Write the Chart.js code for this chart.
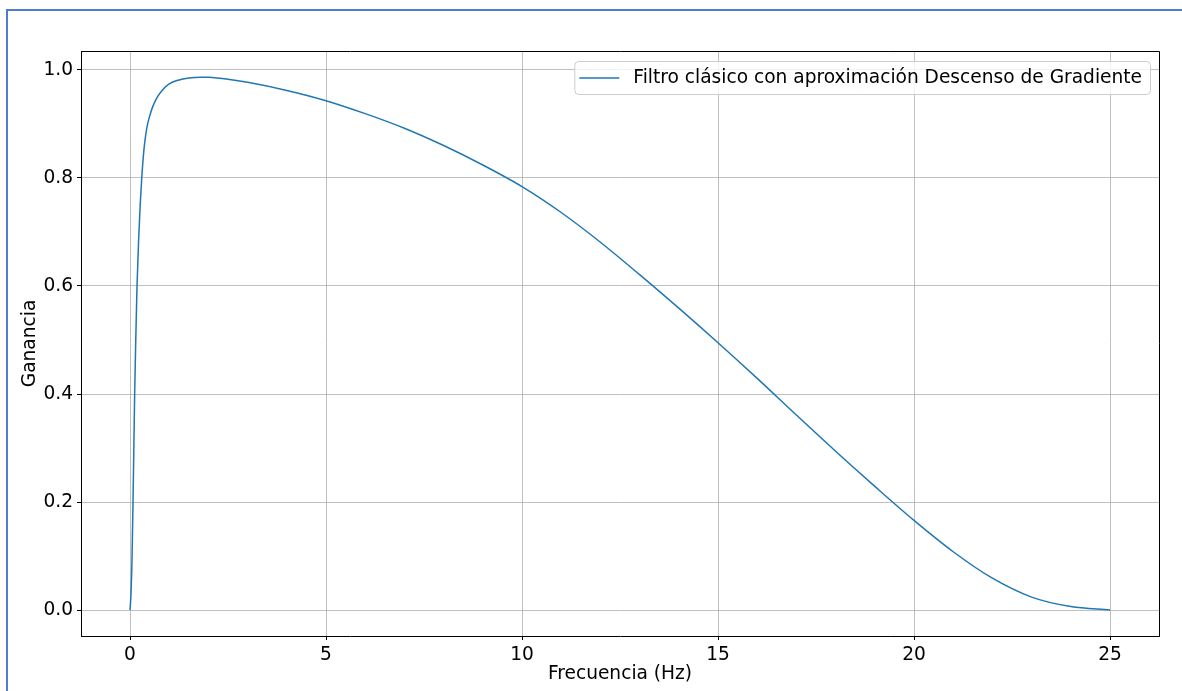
<!DOCTYPE html>
<html>
<head>
<meta charset="utf-8">
<script src="https://cdn.jsdelivr.net/npm/chart.js@4.4.1/dist/chart.umd.min.js"></script>
<style>
  html, body { margin: 0; padding: 0; background: #ffffff; }
  #wrap { position: relative; width: 1182px; height: 691px; overflow: hidden; }
  #frame { position: absolute; left: 6px; top: 9px; width: 1300px; height: 800px;
           border: 2px solid #4f7bd0; box-sizing: border-box; z-index: 0; }
  #c { position: absolute; left: 0; top: 0; z-index: 1; }
</style>
</head>
<body>
<div id="wrap">
  <div id="frame"></div>
  <canvas id="c" width="1182" height="691"></canvas>
</div>
<script>
// ---- Data ----
const freqHz = [0, 0.025, 0.05, 0.077, 0.10, 0.119, 0.15, 0.179, 0.22, 0.26, 0.30, 0.34, 0.38,
  0.43, 0.50, 0.58, 0.70, 0.83, 1.0, 1.23, 1.5, 1.8, 2.0, 2.5, 3, 4, 5, 6, 7, 8, 9, 10, 11,
  12, 13, 14, 15, 16, 17, 18, 19, 20, 21, 22, 23, 24, 25];
const gain = [0, 0.03, 0.09, 0.2, 0.31, 0.4, 0.51, 0.6, 0.685, 0.75, 0.80, 0.84, 0.868,
  0.893, 0.914, 0.932, 0.950, 0.963, 0.974, 0.981, 0.985, 0.9865, 0.9862, 0.9825, 0.977,
  0.962, 0.943, 0.919, 0.892, 0.860, 0.824, 0.784, 0.736, 0.681, 0.621, 0.559, 0.495,
  0.429, 0.361, 0.294, 0.229, 0.166, 0.108, 0.059, 0.024, 0.0065, 0];
const xTickValues = [0, 5, 10, 15, 20, 25];
const yTickValues = [0, 0.2, 0.4, 0.6, 0.8, 1.0];
const seriesLabel = 'Filtro clásico con aproximación Descenso de Gradiente';
const xTitle = 'Frecuencia (Hz)';
const yTitle = 'Ganancia';

// ---- Style ----
const FONT = 'DejaVu Sans';
const FS = 18.6;
const LINE_COLOR = '#1f77b4';

const points = freqHz.map((f, i) => ({ x: f, y: gain[i] }));

const boxPlugin = {
  id: 'axesBox',
  afterDraw(chart) {
    const { ctx, chartArea: ca } = chart;
    ctx.save();
    // top and right spines
    ctx.strokeStyle = '#000';
    ctx.lineWidth = 1;
    ctx.beginPath();
    ctx.moveTo(ca.left, ca.top + 0.5);
    ctx.lineTo(ca.right + 0.5, ca.top + 0.5);
    ctx.lineTo(ca.right + 0.5, ca.bottom);
    ctx.stroke();

    // legend (matplotlib style, upper right)
    ctx.font = FS + 'px "' + FONT + '"';
    const label = chart.data.datasets[0].label;
    const tw = ctx.measureText(label).width;
    const boxRight = ca.right - 9;
    const boxTop = ca.top + 10;
    const boxH = 33;
    const textRight = boxRight - 8;
    const textLeft = textRight - tw;
    const sampleEnd = textLeft - 14;
    const sampleStart = sampleEnd - 40;
    const boxLeft = sampleStart - 5;
    ctx.beginPath();
    ctx.roundRect(boxLeft + 0.5, boxTop + 0.5, boxRight - boxLeft, boxH, 4);
    ctx.fillStyle = 'rgba(255,255,255,0.8)';
    ctx.fill();
    ctx.strokeStyle = '#cccccc';
    ctx.lineWidth = 1;
    ctx.stroke();
    const cy = boxTop + boxH / 2 + 0.5;
    ctx.beginPath();
    ctx.moveTo(sampleStart, cy);
    ctx.lineTo(sampleEnd, cy);
    ctx.strokeStyle = chart.data.datasets[0].borderColor;
    ctx.lineWidth = 1.5;
    ctx.stroke();
    ctx.fillStyle = '#000';
    ctx.textBaseline = 'middle';
    ctx.textAlign = 'left';
    ctx.fillText(label, textLeft, cy);
    ctx.restore();
  }
};

new Chart(document.getElementById('c'), {
  type: 'line',
  data: {
    datasets: [{
      label: seriesLabel,
      data: points,
      borderColor: LINE_COLOR,
      borderWidth: 1.5,
      pointRadius: 0,
      fill: false,
      cubicInterpolationMode: 'monotone'
    }]
  },
  options: {
    responsive: false,
    animation: false,
    layout: { padding: { left: 0, top: 51, right: 23, bottom: 0 } },
    plugins: { legend: { display: false }, tooltip: { enabled: false } },
    scales: {
      x: {
        type: 'linear',
        min: -1.25,
        max: 26.25,
        afterBuildTicks(s) { s.ticks = xTickValues.map(v => ({ value: v })); },
        afterFit(s) { s.height = 55; },
        ticks: {
          color: '#000',
          font: { family: FONT, size: FS },
          padding: 4,
          maxRotation: 0,
          autoSkip: false,
          callback: v => String(v)
        },
        grid: { color: '#b0b0b0', lineWidth: 0.8, tickLength: 4, tickColor: '#000', tickWidth: 1 },
        border: { display: true, color: '#000', width: 1 },
        title: {
          display: true, text: xTitle, color: '#000',
          font: { family: FONT, size: FS }, padding: { top: 0, bottom: 6 }
        }
      },
      y: {
        type: 'linear',
        min: -0.048,
        max: 1.035,
        afterBuildTicks(s) { s.ticks = yTickValues.map(v => ({ value: v })); },
        afterFit(s) { s.width = 81; },
        ticks: {
          color: '#000',
          font: { family: FONT, size: FS },
          padding: 4,
          autoSkip: false,
          callback: v => Number(v).toFixed(1)
        },
        grid: { color: '#b0b0b0', lineWidth: 0.8, tickLength: 4, tickColor: '#000', tickWidth: 1 },
        border: { display: true, color: '#000', width: 1 },
        title: {
          display: true, text: yTitle, color: '#000',
          font: { family: FONT, size: FS }, padding: { top: 19, bottom: 0 }
        }
      }
    }
  },
  plugins: [boxPlugin]
});
</script>
</body>
</html>
